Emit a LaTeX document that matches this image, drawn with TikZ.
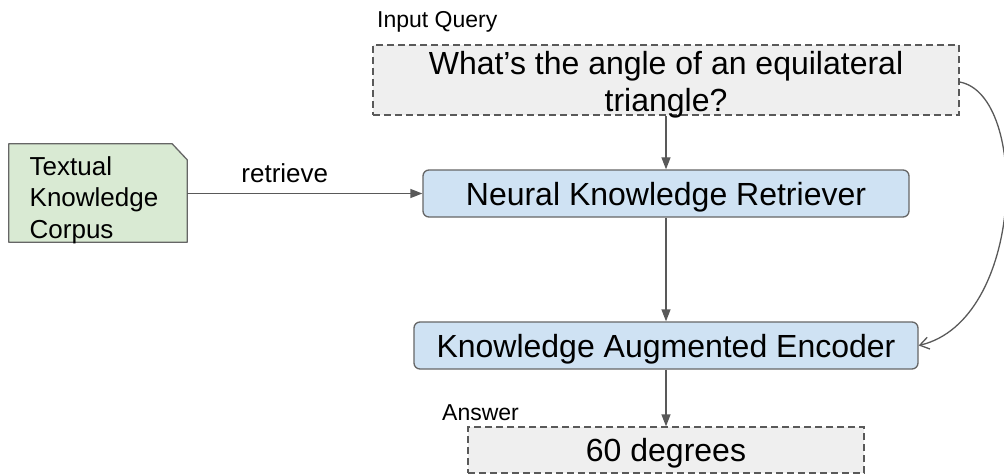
\documentclass[tikz,border=0pt]{standalone}
\usepackage{fontspec}
\setmainfont{Liberation Sans}
\usetikzlibrary{arrows.meta,calc}
\pgfdeclarelayer{background}
\pgfsetlayers{background,main}

\definecolor{edgegray}{HTML}{595959}
\definecolor{boxgray}{HTML}{666666}
\definecolor{qfill}{HTML}{EFEFEF}
\definecolor{bluefill}{HTML}{CFE2F3}
\definecolor{greenfill}{HTML}{D9EAD3}

\tikzset{
  dashbox/.style={draw=edgegray, fill=qfill, line width=1.3pt,
    dash pattern=on 7pt off 4pt, inner sep=0pt, align=center,
    font=\fontsize{32}{37}\selectfont, text height=23pt, text depth=0pt},
  modelbox/.style={draw=boxgray, fill=bluefill, line width=1.3pt,
    rounded corners=6pt, inner sep=0pt, minimum height=47pt,
    font=\fontsize{32}{37}\selectfont, text height=23pt, text depth=0pt},
  caption/.style={font=\fontsize{23}{27}\selectfont, inner sep=0pt},
  flow/.style={draw=edgegray, line width=1.3pt,
    -{Triangle[length=12pt,width=9pt]}},
  loopflow/.style={draw=edgegray, line width=1.3pt,
    -{Straight Barb[length=9pt,width=12pt]}}
}

\begin{document}
\begin{tikzpicture}[x=1pt,y=-1pt]
\useasboundingbox (0,0) rectangle (1004,476);

% question box with its caption
\node[dashbox, minimum width=586pt, minimum height=70pt] (query) at (666,80) {};
\node[font=\fontsize{32}{37}\selectfont, inner sep=0pt, anchor=base] (qline1) at (666,75) {What’s the angle of an equilateral};
\node[font=\fontsize{32}{37}\selectfont, inner sep=0pt, anchor=base] (qline2) at (666,112) {triangle?};
\node[caption, anchor=base west] (querylabel) at (377,28) {Input Query};

% knowledge corpus (note with a clipped corner)
\node[minimum width=178pt, minimum height=98pt, inner sep=0pt] (corpus) at (98,193) {};
\begin{pgfonlayer}{background}
  \draw[draw=boxgray, fill=greenfill, line width=1.3pt, line join=round]
    (corpus.north west) -- ($(corpus.north east)+(-15,0)$)
    -- ($(corpus.north east)+(0,16)$) -- (corpus.south east)
    -- (corpus.south west) -- cycle;
\end{pgfonlayer}
\node[font=\fontsize{26}{31.5}\selectfont, inner sep=0pt, align=left, anchor=north west]
  (corpustext) at (29.5,156) {Textual\\Knowledge\\Corpus};

% model stages
\node[modelbox, minimum width=486pt] (retriever) at (666,193.5) {Neural Knowledge Retriever};
\node[modelbox, minimum width=504pt] (encoder) at (666,345.5) {Knowledge Augmented Encoder};

% answer box with its caption
\node[dashbox, minimum width=396pt, minimum height=46pt] (answer) at (666,450) {60 degrees};
\node[caption, anchor=base west] (answerlabel) at (442,420) {Answer};

% connectors
\draw[flow] (query.south) -- (retriever.north);
\draw[flow] (retriever.south) -- (encoder.north);
\draw[flow] (encoder.south) -- (answer.south |- answer.north);
\draw[flow] (corpus.east |- retriever.west) -- node[pos=0.415, caption, font=\fontsize{26}{31}\selectfont, above=10pt] (retrievelabel) {retrieve} (retriever.west);
\draw[loopflow] ($(query.east)+(0,2)$) .. controls +(70,13) and +(106,-25) .. (encoder.east);
\end{tikzpicture}
\end{document}
